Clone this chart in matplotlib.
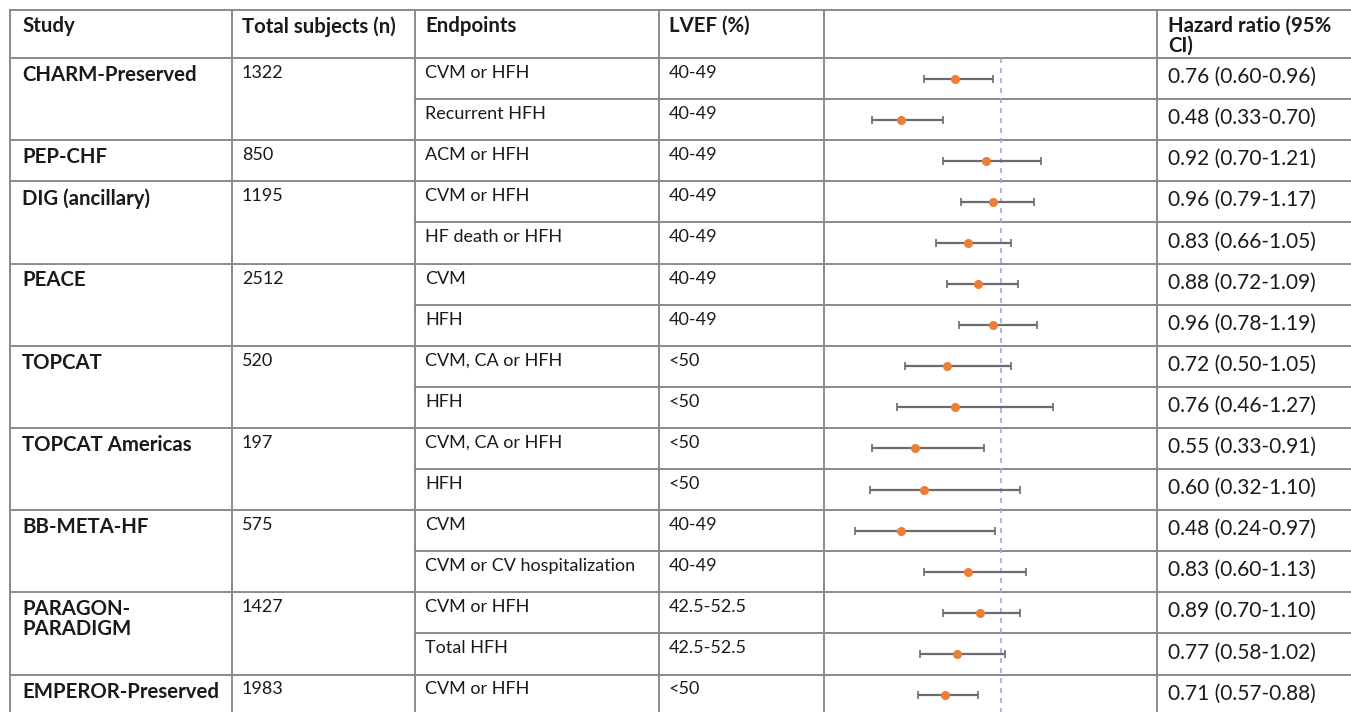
import numpy as np
import matplotlib
matplotlib.use("Agg")
import matplotlib.pyplot as plt

# table content
studies = ["CHARM-Preserved", "PEP-CHF", "DIG (ancillary)", "PEACE", "TOPCAT",
           "TOPCAT Americas", "BB-META-HF", "PARAGON-\nPARADIGM", "EMPEROR-Preserved"]
subjects = ["1322", "850", "1195", "2512", "520", "197", "575", "1427", "1983"]
rows_per_study = [2, 1, 2, 2, 2, 2, 2, 2, 1]

endpoints = ["CVM or HFH", "Recurrent HFH", "ACM or HFH", "CVM or HFH", "HF death or HFH",
             "CVM", "HFH", "CVM, CA or HFH", "HFH", "CVM, CA or HFH", "HFH", "CVM",
             "CVM or CV hospitalization", "CVM or HFH", "Total HFH", "CVM or HFH"]
lvef = ["40-49", "40-49", "40-49", "40-49", "40-49", "40-49", "40-49", "<50", "<50",
        "<50", "<50", "40-49", "40-49", "42.5-52.5", "42.5-52.5", "<50"]
hr = [0.76, 0.48, 0.92, 0.96, 0.83, 0.88, 0.96, 0.72, 0.76, 0.55, 0.60, 0.48, 0.83, 0.89, 0.77, 0.71]
ci_low = [0.60, 0.33, 0.70, 0.79, 0.66, 0.72, 0.78, 0.50, 0.46, 0.33, 0.32, 0.24, 0.60, 0.70, 0.58, 0.57]
ci_high = [0.96, 0.70, 1.21, 1.17, 1.05, 1.09, 1.19, 1.05, 1.27, 0.91, 1.10, 0.97, 1.13, 1.10, 1.02, 0.88]

headers = ["Study", "Total subjects (n)", "Endpoints", "LVEF (%)", "", "Hazard ratio (95%\nCI)"]

# layout in pixels
W, H = 1351, 712
col_x = [10, 232, 415, 659, 824, 1157, 1352]
top = 10
head_bot = 58
row_h = 41.1
n_rows = len(hr)

plt.rcParams["font.family"] = ["Lato", "DejaVu Sans"]
line_col = "#8a8a8a"
txt_col = "#1a1a1a"
bold_w = "bold"

fig = plt.figure(figsize=(W / 100, H / 100), dpi=100)
bg = fig.add_axes([0, 0, 1, 1])
bg.set_xlim(0, W)
bg.set_ylim(H, 0)
bg.axis("off")

bottom = head_bot + n_rows * row_h
# vertical lines
for x in col_x:
    bg.plot([x, x], [top, bottom], color=line_col, lw=1.4)
# top and header lines
bg.plot([col_x[0], col_x[-1]], [top, top], color=line_col, lw=1.4)
bg.plot([col_x[0], col_x[-1]], [head_bot, head_bot], color=line_col, lw=1.4)

# horizontal lines: full across at study boundaries, partial inside a study
study_start = np.concatenate([[0], np.cumsum(rows_per_study)[:-1]])
r = 0
for s, k in enumerate(rows_per_study):
    for j in range(1, k):
        y = head_bot + (r + j) * row_h
        bg.plot([col_x[2], col_x[-1]], [y, y], color=line_col, lw=1.4)
    r += k
    y = head_bot + r * row_h
    bg.plot([col_x[0], col_x[-1]], [y, y], color=line_col, lw=1.4)

# headers
pads = [12, 10, 10, 10, 10, 11]
for i, h in enumerate(headers):
    if not h:
        continue
    bg.text(col_x[i] + pads[i], top + 6, h, fontsize=14.7, fontweight=bold_w,
            color=txt_col, va="top", ha="left", linespacing=1.0)

# study and n columns
for s, name in enumerate(studies):
    y = head_bot + study_start[s] * row_h + 7
    bg.text(col_x[0] + pads[0], y, name, fontsize=14.7, fontweight=bold_w,
            color=txt_col, va="top", ha="left", linespacing=1.0)
    bg.text(col_x[1] + pads[1], y, subjects[s], fontsize=13,
            color=txt_col, va="top", ha="left")

# endpoint, lvef and hr text
for i in range(n_rows):
    y0 = head_bot + i * row_h
    bg.text(col_x[2] + pads[2], y0 + 7, endpoints[i], fontsize=13,
            color=txt_col, va="top", ha="left")
    bg.text(col_x[3] + pads[3], y0 + 7, lvef[i], fontsize=13,
            color=txt_col, va="top", ha="left")
    bg.text(col_x[5] + pads[5], y0 + 19, "%.2f (%.2f-%.2f)" % (hr[i], ci_low[i], ci_high[i]),
            fontsize=15, color=txt_col, va="center", ha="left")

# forest plot column
ax = fig.add_axes([col_x[4] / W, 1 - bottom / H, (col_x[5] - col_x[4]) / W, (bottom - head_bot) / H])
ax.patch.set_alpha(0)
ypos = np.arange(n_rows) + 0.5
hr_a = np.array(hr)
err = [hr_a - np.array(ci_low), np.array(ci_high) - hr_a]
ax.errorbar(hr_a, ypos, xerr=err, fmt="none", ecolor="#6b6b6b", elinewidth=1.6,
            capsize=3, capthick=1.2)
ax.plot(hr_a, ypos, "o", color="#ee7d35", ms=5.5, zorder=3)
ax.axvline(1.0, color="#a5a5e0", lw=1.2, ls=(0, (3, 3)), zorder=1)
ax.set_xlim(0.078, 1.8125)
ax.set_ylim(n_rows, 0)
ax.axis("off")

fig.savefig("out.png", dpi=100)
